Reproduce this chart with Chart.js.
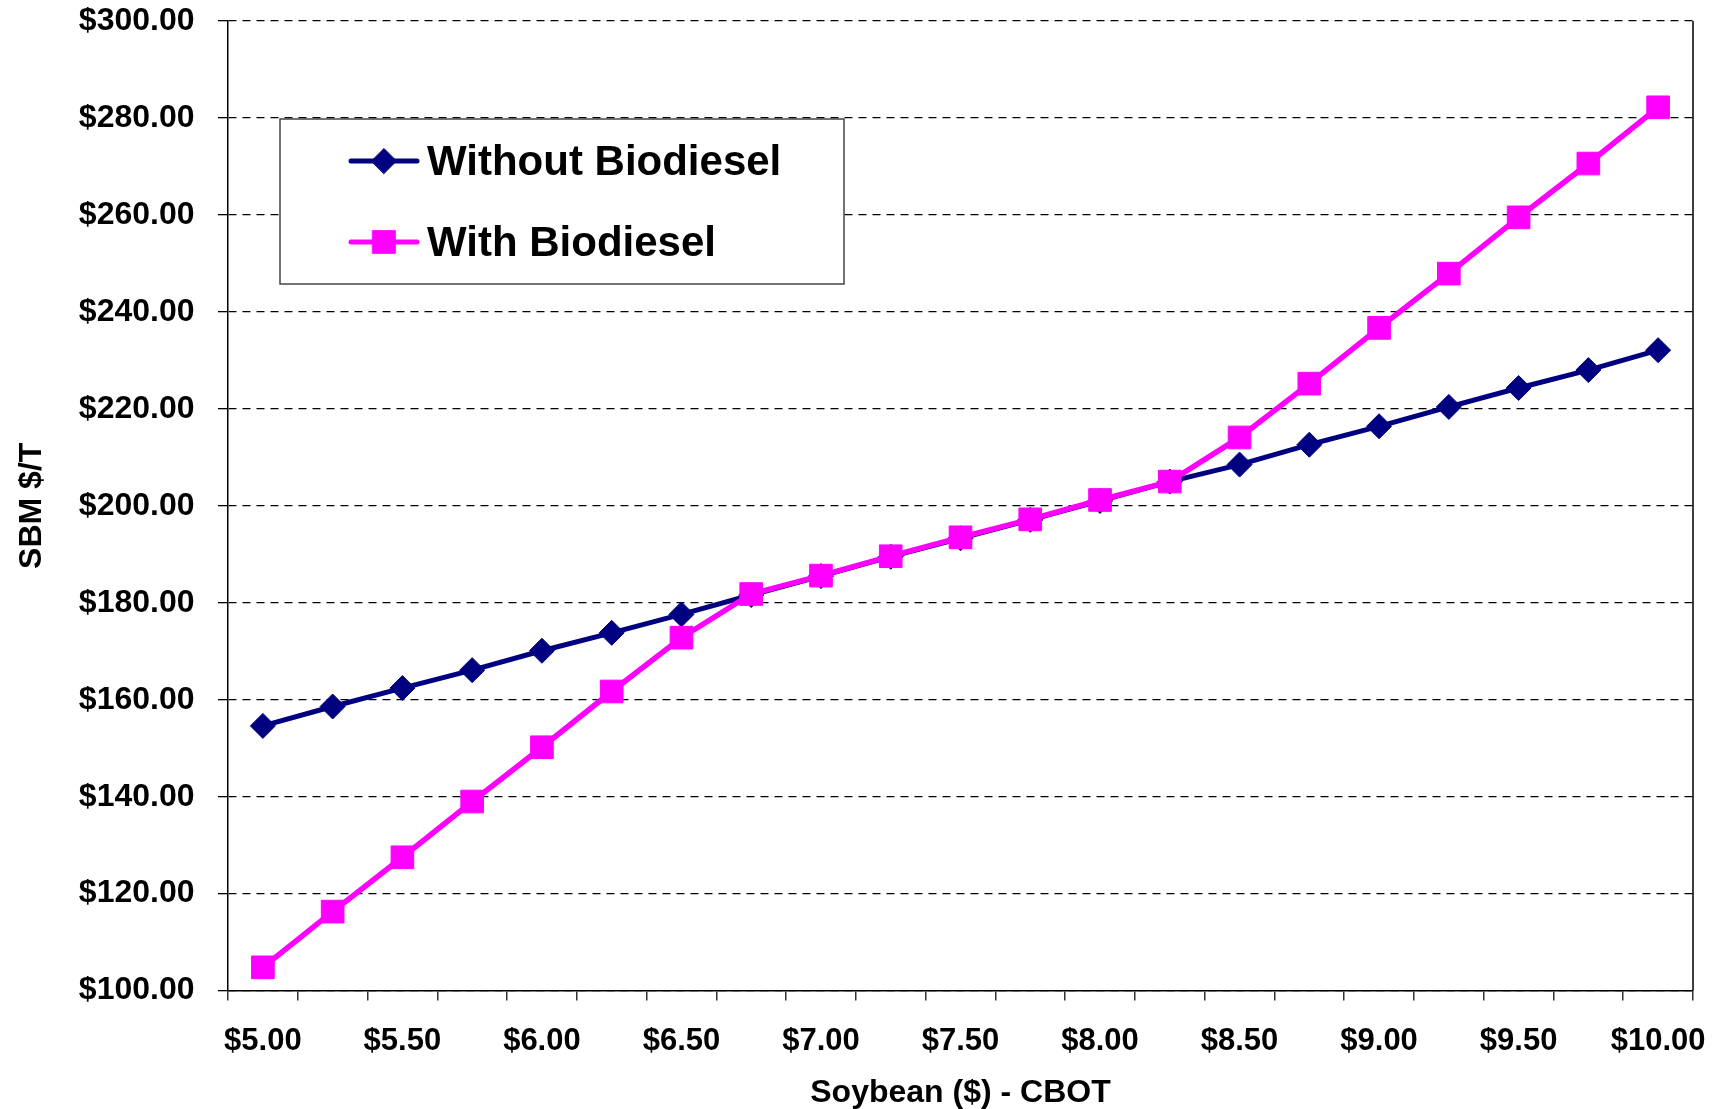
<!DOCTYPE html>
<html>
<head>
<meta charset="utf-8">
<title>SBM price vs soybean price</title>
<script src="https://cdn.jsdelivr.net/npm/chart.js@4.4.1/dist/chart.umd.min.js"></script>
<style>
  html, body { margin: 0; padding: 0; background: #fff; }
  #wrap { width: 1724px; height: 1109px; position: relative; }
</style>
</head>
<body>
<div id="wrap"><canvas id="chart" width="1724" height="1109"></canvas></div>
<script>
// soybean price (CBOT) categories
const soyPrices = ['$5.00', '$5.25', '$5.50', '$5.75', '$6.00', '$6.25', '$6.50', '$6.75', '$7.00', '$7.25', '$7.50',
                   '$7.75', '$8.00', '$8.25', '$8.50', '$8.75', '$9.00', '$9.25', '$9.50', '$9.75', '$10.00'];

// SBM $/T
const withoutBiodiesel = [154.6, 158.6, 162.4, 166.1, 170.1, 173.8, 177.6, 181.6, 185.5, 189.5, 193.3,
                          197.1, 201.0, 205.0, 208.5, 212.6, 216.4, 220.4, 224.3, 228.0, 232.1];
const withBiodiesel = [104.8, 116.3, 127.5, 139.0, 150.2, 161.7, 172.8, 181.8, 185.6, 189.6, 193.5,
                       197.2, 201.2, 205.0, 214.1, 225.2, 236.7, 247.9, 259.5, 270.6, 282.2];

const yMin = 100, yMax = 300, yStep = 20;

const NAVY = '#000080';
const PINK = '#FF00FF';
const FONT = "'Liberation Sans', Arial, Helvetica, sans-serif";

// right edge of the plot frame (top edge is the dashed $300 grid line)
const framePlugin = {
    id: 'frame',
    afterDraw(chart) {
        const { ctx, chartArea } = chart;
        ctx.save();
        ctx.strokeStyle = '#000';
        ctx.lineWidth = 1.5;
        ctx.beginPath();
        ctx.moveTo(chartArea.right, chartArea.top);
        ctx.lineTo(chartArea.right, chartArea.bottom);
        ctx.stroke();
        ctx.restore();
    }
};

// boxed legend inside the plot, top-left
const boxLegend = {
    id: 'boxLegend',
    afterDraw(chart) {
        const { ctx } = chart;
        const box = { x: 280, y: 119, w: 564, h: 165 };
        ctx.save();
        ctx.fillStyle = '#fff';
        ctx.fillRect(box.x, box.y, box.w, box.h);
        ctx.strokeStyle = '#444';
        ctx.lineWidth = 1.5;
        ctx.strokeRect(box.x, box.y, box.w, box.h);

        const rows = [
            { ds: chart.data.datasets[0], y: 161 },
            { ds: chart.data.datasets[1], y: 242 }
        ];
        rows.forEach(r => {
            ctx.strokeStyle = r.ds.borderColor;
            ctx.lineWidth = 5;
            ctx.lineCap = 'round';
            ctx.beginPath();
            ctx.moveTo(351, r.y);
            ctx.lineTo(417, r.y);
            ctx.stroke();

            ctx.fillStyle = r.ds.backgroundColor;
            ctx.strokeStyle = r.ds.borderColor;
            ctx.lineWidth = 1;
            Chart.helpers.drawPoint(ctx, {
                pointStyle: r.ds.pointStyle,
                radius: r.ds.pointStyle === 'rect' ? 16 : 12.5,
                borderWidth: 1,
                rotation: 0
            }, 384, r.y);

            ctx.fillStyle = '#000';
            ctx.font = 'bold 42px ' + FONT;
            ctx.textAlign = 'left';
            ctx.textBaseline = 'middle';
            ctx.fillText(r.ds.label, 427, r.y + 2);
        });
        ctx.restore();
    }
};

new Chart(document.getElementById('chart'), {
    type: 'line',
    data: {
        labels: soyPrices,
        datasets: [
            {
                label: 'Without Biodiesel',
                data: withoutBiodiesel,
                borderColor: NAVY,
                backgroundColor: NAVY,
                borderWidth: 5,
                pointStyle: 'rectRot',
                pointRadius: 12.5,
                pointBorderWidth: 1,
                tension: 0,
                order: 2
            },
            {
                label: 'With Biodiesel',
                data: withBiodiesel,
                borderColor: PINK,
                backgroundColor: PINK,
                borderWidth: 5.5,
                pointStyle: 'rect',
                pointRadius: 16,
                pointBorderWidth: 1,
                tension: 0,
                order: 1
            }
        ]
    },
    options: {
        responsive: false,
        animation: false,
        devicePixelRatio: 1,
        layout: { padding: { top: 21, right: 31, left: 0, bottom: 0 } },
        plugins: {
            legend: { display: false },
            tooltip: { enabled: false }
        },
        scales: {
            x: {
                type: 'category',
                offset: true,
                afterFit: (scale) => {
                    scale.height = 118.4;
                    scale.paddingLeft = 0;
                    scale.paddingRight = 0;
                },
                grid: {
                    offset: true,
                    drawOnChartArea: false,
                    drawTicks: true,
                    tickLength: 10,
                    color: '#333',
                    lineWidth: 1.5
                },
                border: { color: '#000', width: 1.5 },
                ticks: {
                    autoSkip: false,
                    maxRotation: 0,
                    padding: 22,
                    color: '#000',
                    font: { family: FONT, size: 31, weight: 'bold' },
                    callback: function (val, i) { return i % 2 === 0 ? this.getLabelForValue(val) : ''; }
                },
                title: {
                    display: true,
                    text: 'Soybean ($) - CBOT',
                    color: '#000',
                    font: { family: FONT, size: 32, weight: 'bold' },
                    padding: { top: 0, bottom: -3 }
                }
            },
            y: {
                min: yMin,
                max: yMax,
                afterFit: (scale) => {
                    scale.width = 228;
                    scale.paddingTop = 0;
                    scale.paddingBottom = 0;
                },
                grid: {
                    color: '#000',
                    lineWidth: 1.3,
                    tickBorderDash: [],
                    tickLength: 10
                },
                border: { color: '#000', width: 1.5, dash: [8, 6] },
                ticks: {
                    stepSize: yStep,
                    padding: 23.5,
                    color: '#000',
                    font: { family: FONT, size: 32, weight: 'bold' },
                    callback: v => '$' + v.toFixed(2)
                },
                title: {
                    display: true,
                    text: 'SBM $/T',
                    color: '#000',
                    font: { family: FONT, size: 32, weight: 'bold' },
                    padding: { top: 13, bottom: 0 }
                }
            }
        }
    },
    plugins: [framePlugin, boxLegend]
});
</script>
</body>
</html>
